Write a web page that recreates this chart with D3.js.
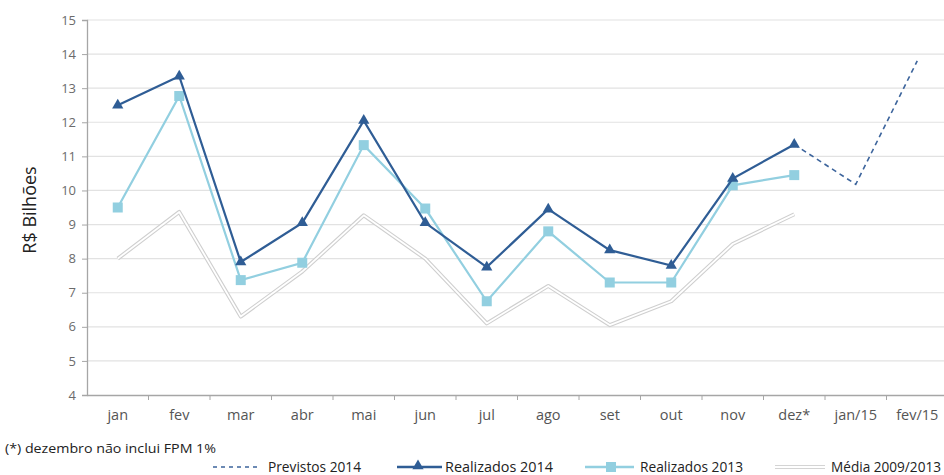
<!DOCTYPE html>
<html><head><meta charset="utf-8">
<script src="https://cdn.jsdelivr.net/npm/d3@7"></script>
<style>body{margin:0;background:#fff}svg{display:block;font-family:"Open Sans",sans-serif}</style>
</head><body><svg id="c" width="944" height="475"></svg>
<script>
const categories = ["jan","fev","mar","abr","mai","jun","jul","ago","set","out","nov","dez*","jan/15","fev/15"];
const yTicks = [4,5,6,7,8,9,10,11,12,13,14,15];
const previstos2014 = [null,null,null,null,null,null,null,null,null,null,null,11.35,10.18,13.8];
const realizados2014 = [12.5,13.35,7.9,9.05,12.05,9.05,7.75,9.45,8.25,7.8,10.35,11.35];
const realizados2013 = [9.5,12.77,7.37,7.88,11.33,9.47,6.75,8.8,7.3,7.3,10.15,10.45];
const media = [8.0,9.37,6.3,7.62,9.27,8.0,6.1,7.2,6.05,6.75,8.43,9.3];
const footnote = "(*) dezembro não inclui FPM 1%";
const legendLabels = ["Previstos 2014","Realizados 2014","Realizados 2013","Média 2009/2013"];

const svg = d3.select("#c");
const x = d3.scaleBand().domain(categories).range([87,948]);
const y = d3.scaleLinear().domain([4,15]).range([395,20]);
const cx = c => x(c) + x.bandwidth()/2;

// gridlines
svg.append("g").selectAll("line").data(yTicks.slice(1)).join("line")
  .attr("x1",87).attr("x2",944).attr("y1",d=>y(d)).attr("y2",d=>y(d))
  .attr("stroke","#e2e2e2").attr("stroke-width",1.2);

// y axis
const ya = svg.append("g").attr("transform","translate(87,0)")
  .call(d3.axisLeft(y).tickValues(yTicks).tickSize(5).tickPadding(6).tickFormat(d3.format("d")));
ya.select(".domain").attr("stroke","#a6a6a6").attr("stroke-width",1.3);
ya.selectAll(".tick line").attr("stroke","#a6a6a6");
ya.selectAll("text").attr("fill","#6b6b6b").style("font-size","13px").style("font-family","'Open Sans',sans-serif");

// x axis
const xa = svg.append("g").attr("transform","translate(0,395)")
  .call(d3.axisBottom(x).tickSize(0).tickPadding(15));
xa.select(".domain").attr("stroke","#a6a6a6").attr("stroke-width",1.3);
xa.selectAll("text").attr("fill","#555").style("font-size","14.5px").style("font-family","'Open Sans',sans-serif");
xa.append("g").selectAll("line").data(categories).join("line")
  .attr("x1",d=>x(d)+x.bandwidth()).attr("x2",d=>x(d)+x.bandwidth())
  .attr("y1",0).attr("y2",5).attr("stroke","#a6a6a6");

// y label
svg.append("text").attr("transform","translate(36,210) rotate(-90)")
  .attr("text-anchor","middle").attr("fill","#222").style("font-size","18px").text("R$ Bilhões");

const line = d3.line().defined(d=>d.v!=null).x(d=>cx(d.c)).y(d=>y(d.v));
const pts = arr => arr.map((v,i)=>({c:categories[i],v}));

// média double line
svg.append("path").datum(pts(media)).attr("d",line).attr("fill","none")
  .attr("stroke","#cfcfcf").attr("stroke-width",4).attr("stroke-linejoin","round");
svg.append("path").datum(pts(media)).attr("d",line).attr("fill","none")
  .attr("stroke","#fff").attr("stroke-width",1.8).attr("stroke-linejoin","round");

// previstos dashed
svg.append("path").datum(pts(previstos2014)).attr("d",line).attr("fill","none")
  .attr("stroke","#3c649c").attr("stroke-width",1.6).attr("stroke-dasharray","5,4");

// realizados 2013
const c13 = "#92cfe0";
svg.append("path").datum(pts(realizados2013)).attr("d",line).attr("fill","none")
  .attr("stroke",c13).attr("stroke-width",2.2);
svg.append("g").selectAll("rect").data(pts(realizados2013)).join("rect")
  .attr("x",d=>cx(d.c)-5).attr("y",d=>y(d.v)-5).attr("width",10).attr("height",10).attr("fill",c13);

// realizados 2014
const c14 = "#2f5d95";
svg.append("path").datum(pts(realizados2014)).attr("d",line).attr("fill","none")
  .attr("stroke",c14).attr("stroke-width",2.2);
const tri = d3.symbol().type(d3.symbolTriangle).size(55);
svg.append("g").selectAll("path").data(pts(realizados2014)).join("path")
  .attr("d",tri).attr("transform",d=>`translate(${cx(d.c)},${y(d.v)})`).attr("fill",c14);

// footnote
svg.append("text").attr("x",5).attr("y",453).attr("fill","#222").style("font-size","13px")
  .attr("textLength",211).attr("lengthAdjust","spacingAndGlyphs").text(footnote);

// legend
const ly = 467;
const lg = svg.append("g").style("font-size","14px");
lg.append("line").attr("x1",213).attr("x2",258).attr("y1",ly).attr("y2",ly)
  .attr("stroke","#3c649c").attr("stroke-width",1.4).attr("stroke-dasharray","4,4");
lg.append("line").attr("x1",397).attr("x2",442).attr("y1",ly).attr("y2",ly).attr("stroke",c14).attr("stroke-width",2.4);
lg.append("path").attr("d",tri).attr("transform",`translate(418,${ly-1})`).attr("fill",c14);
lg.append("line").attr("x1",585).attr("x2",634).attr("y1",ly).attr("y2",ly).attr("stroke",c13).attr("stroke-width",2.4);
lg.append("rect").attr("x",606).attr("y",ly-5).attr("width",10).attr("height",10).attr("fill",c13);
lg.append("line").attr("x1",775).attr("x2",825).attr("y1",ly).attr("y2",ly).attr("stroke","#d4d4d4").attr("stroke-width",4);
lg.append("line").attr("x1",775).attr("x2",825).attr("y1",ly).attr("y2",ly).attr("stroke","#fff").attr("stroke-width",1.8);
const lx = [268,445,640,831], lw = [93,108,103,110];
lg.selectAll("text").data(legendLabels).join("text")
  .attr("x",(d,i)=>lx[i]).attr("y",472).attr("fill","#222")
  .attr("textLength",(d,i)=>lw[i]).attr("lengthAdjust","spacingAndGlyphs").text(d=>d);
</script></body></html>
